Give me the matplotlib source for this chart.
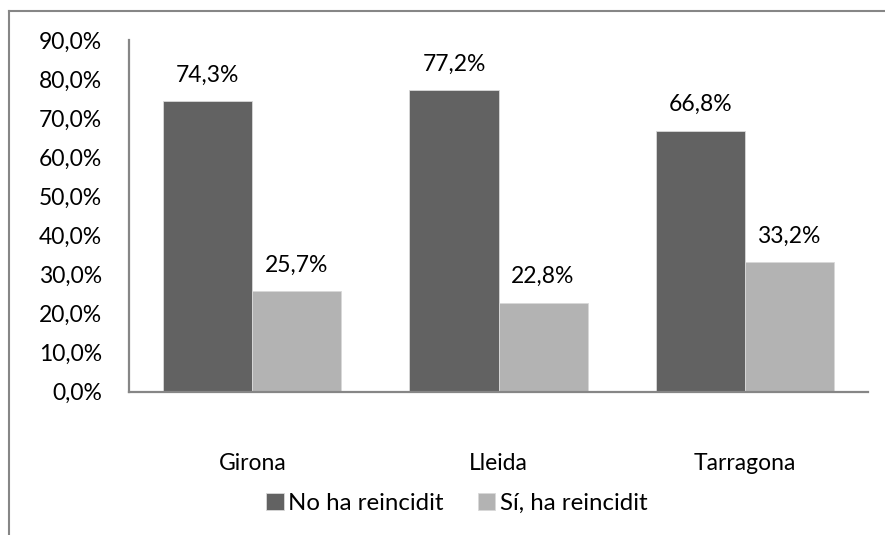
import numpy as np
import matplotlib
matplotlib.use("Agg")
import matplotlib.pyplot as plt
from matplotlib.lines import Line2D

# dades
categories = ["Girona", "Lleida", "Tarragona"]
no_reincidit = [74.3, 77.2, 66.8]
si_reincidit = [25.7, 22.8, 33.2]
series_names = ["No ha reincidit", "Sí, ha reincidit"]
y_ticks = [0, 10, 20, 30, 40, 50, 60, 70, 80, 90]

plt.rcParams["font.family"] = ["Lato", "DejaVu Sans"]
FS = 16.5
DARK = "#626262"
LIGHT = "#b3b3b3"
AXIS = "#868686"

fig = plt.figure(figsize=(8.85, 5.35), dpi=100)
ax = fig.add_axes([129.3 / 885, 1 - 391.7 / 535, (867.7 - 129.3) / 885, (391.7 - 40) / 535])

# marc del gràfic (només es veuen els costats superior i esquerre)
fig.add_artist(Line2D([8.5 / 885, 1.0], [1 - 10.5 / 535] * 2, transform=fig.transFigure,
                      color=AXIS, lw=1.5))
fig.add_artist(Line2D([8.5 / 885] * 2, [0.0, 1 - 10.5 / 535], transform=fig.transFigure,
                      color=AXIS, lw=1.5))

x = np.arange(len(categories))
w = 0.362
b1 = ax.bar(x - w / 2, no_reincidit, w, color=DARK, edgecolor="#d9d9d9", linewidth=0.6,
            label=series_names[0])
b2 = ax.bar(x + w / 2, si_reincidit, w, color=LIGHT, edgecolor="#d9d9d9", linewidth=0.6,
            label=series_names[1])

for bars, vals in ((b1, no_reincidit), (b2, si_reincidit)):
    for rect, v in zip(bars, vals):
        ax.annotate(f"{v:.1f}%".replace(".", ","),
                    (rect.get_x() + rect.get_width() / 2, v),
                    xytext=(0, 14), textcoords="offset points",
                    ha="center", va="baseline", fontsize=FS)

ax.set_xlim(-0.5, len(categories) - 0.5)
ax.set_ylim(0, 90)
ax.set_yticks(y_ticks)
ax.set_yticklabels([f"{t:.1f}%".replace(".", ",") for t in y_ticks])
ax.set_xticks(x)
ax.set_xticklabels(categories)
ax.tick_params(axis="y", length=0, pad=19.5, labelsize=FS)
ax.tick_params(axis="x", length=0, pad=44, labelsize=FS)

for s in ("top", "right"):
    ax.spines[s].set_visible(False)
for s in ("left", "bottom"):
    ax.spines[s].set_color(AXIS)
    ax.spines[s].set_linewidth(1.6)

fig.legend(loc="center", bbox_to_anchor=(457 / 885, 1 - 503 / 535), ncol=2, frameon=False,
           fontsize=17.3, handlelength=0.72, handleheight=0.72, handletextpad=0.2,
           columnspacing=1.42)

fig.savefig("out.png", dpi=100)
